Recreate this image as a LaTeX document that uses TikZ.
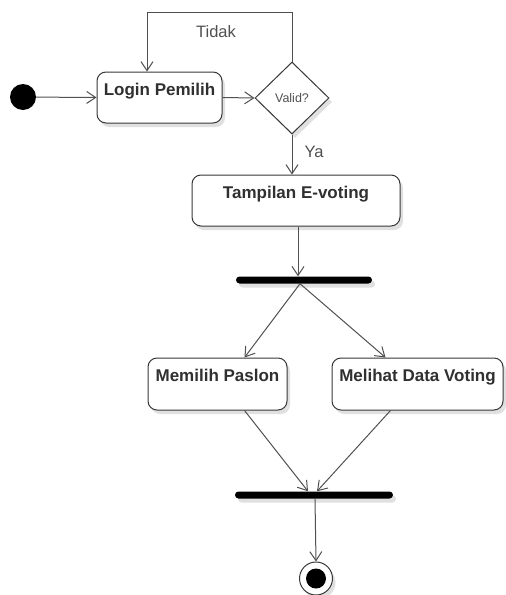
\documentclass[tikz,border=0pt]{standalone}
\usepackage{fontspec}
\setmainfont{Liberation Sans}
\usetikzlibrary{arrows.meta,shapes.geometric,shadows}
\definecolor{linec}{HTML}{505050}
\definecolor{boxc}{HTML}{383838}
\definecolor{txtc}{HTML}{303030}
\begin{document}
\begin{tikzpicture}[x=1pt,y=-1pt,
  shad/.style={drop shadow={shadow xshift=3pt,shadow yshift=-4pt,opacity=0.12,fill=black}},
  actbox/.style={draw=boxc,line width=1pt,rounded corners=9pt,fill=white,shad,
    inner sep=0pt,text height=12pt,text depth=17pt,text=txtc,
    font=\fontsize{17}{19}\selectfont\bfseries},
  decis/.style={draw=boxc,line width=1pt,diamond,fill=white,shad,inner sep=0pt,
    minimum width=74pt,minimum height=72pt,text=linec,font=\fontsize{12.5}{14}\selectfont},
  barnode/.style={fill=black,rounded corners=3.5pt,minimum height=7pt,inner sep=0pt,shad},
  arr/.style={draw=linec,line width=1pt,-{Straight Barb[length=9pt,width=12pt,line width=1pt]}},
  lbl/.style={text=linec,font=\fontsize{16.5}{18}\selectfont}]
\useasboundingbox (0,0) rectangle (506,595);

\node[circle,fill=black,minimum size=26pt,inner sep=0pt] (start) at (23,97) {};
\node[actbox,minimum width=125pt,minimum height=51pt] (login) at (159.5,97.5) {Login Pemilih};
\node[decis] (valid) at (292,98) {Valid?};
\node[actbox,minimum width=208pt,minimum height=51pt] (tamp) at (296,200.5) {Tampilan E-voting};
\node[barnode,minimum width=136pt] (fork) at (304,280) {};
\node[actbox,minimum width=139pt,minimum height=52pt] (pilih) at (217.5,384) {Memilih Paslon};
\node[actbox,minimum width=171pt,minimum height=52pt] (lihat) at (417.5,384) {Melihat Data Voting};
\node[barnode,minimum width=158pt] (join) at (314,495) {};
\node[circle,draw=boxc,line width=1pt,fill=white,minimum size=33pt,inner sep=0pt,shad] (final) at (316,578.5) {};
\node[circle,fill=black,minimum size=20pt,inner sep=0pt] (finalin) at (final) {};

\coordinate (loopc) at (147,12);
\node[lbl] (tidak) at (216,32) {Tidak};
\node[lbl] (ya) at (314,152) {Ya};

\draw[arr] (start) -- (login.west);
\draw[arr] (login.east) -- (valid.west);
\draw[arr] (valid.north) |- (loopc) -- (loopc |- login.north);
\draw[arr] (valid.south) -- (valid.south |- tamp.north);
\draw[arr] ([xshift=2pt]tamp.south) -- ([xshift=2pt]tamp.south |- fork.north);
\draw[arr] ([xshift=-4pt]fork.south) -- ([xshift=27pt]pilih.north);
\draw[arr] ([xshift=-4pt]fork.south) -- ([xshift=-32pt]lihat.north);
\draw[arr] ([xshift=27pt]pilih.south) -- ([xshift=-6pt]join.north);
\draw[arr] ([xshift=-27pt]lihat.south) -- ([xshift=3pt]join.north);
\draw[arr] ([xshift=1pt]join.south) -- (final.north);
\end{tikzpicture}
\end{document}
